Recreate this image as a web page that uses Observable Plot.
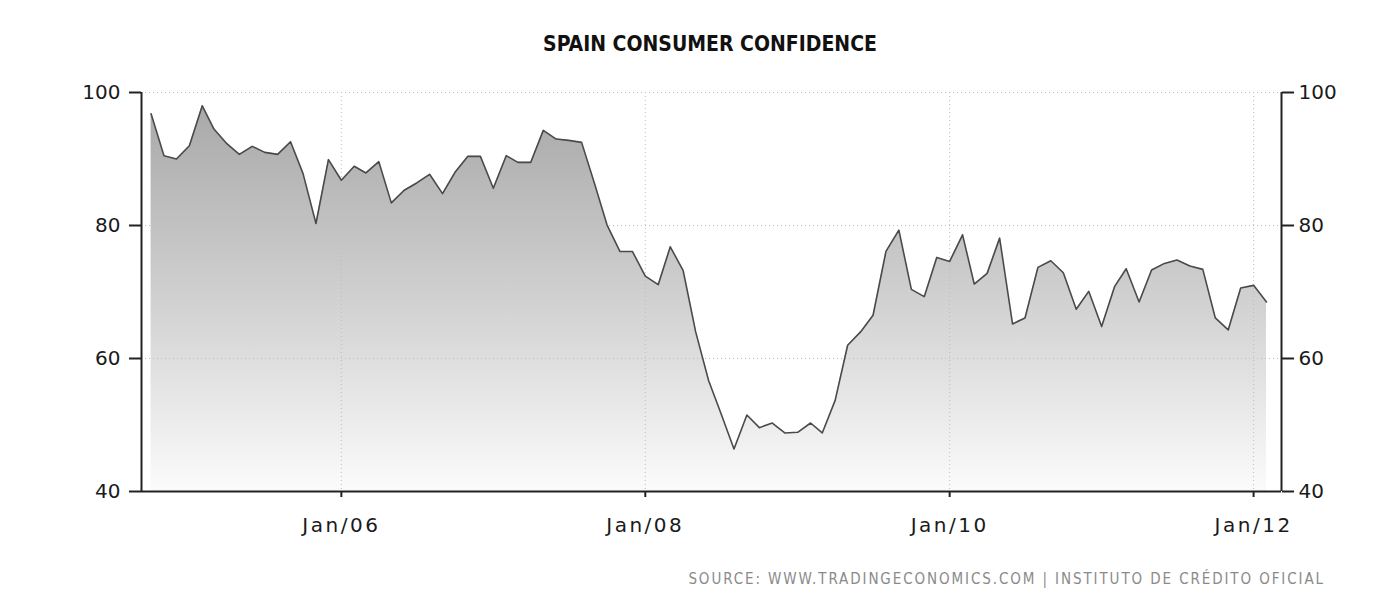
<!DOCTYPE html>
<html>
<head>
<meta charset="utf-8">
<script src="https://cdn.jsdelivr.net/npm/d3@7"></script>
<script src="https://cdn.jsdelivr.net/npm/@observablehq/plot@0.6"></script>
<style>
  html, body { margin: 0; padding: 0; background: #fff; }
  #wrap { position: relative; width: 1391px; height: 600px; overflow: hidden; }
  #title { position: absolute; left: 0; top: 32px; width: 1420px; text-align: center;
    font-family: "DejaVu Sans Condensed", "DejaVu Sans", sans-serif; font-weight: bold;
    font-size: 21px; color: #111; }
  #chart { position: absolute; left: 0; top: 75px; }
  #source { position: absolute; right: 66px; top: 570px;
    font-family: "DejaVu Sans Condensed", "DejaVu Sans", sans-serif; font-size: 15px;
    color: #8a8a8a; letter-spacing: 1.9px; white-space: nowrap; }
  .xax text { letter-spacing: 2.5px; }
</style>
</head>
<body>
<div id="wrap">
  <div id="title">SPAIN CONSUMER CONFIDENCE</div>
  <div id="chart"></div>
  <div id="source">SOURCE: WWW.TRADINGECONOMICS.COM | INSTITUTO DE CRÉDITO OFICIAL</div>
</div>
<script>
// Monthly series, Oct 2004 .. Feb 2012
const startMonth = "2004-10-01";
const values = [
  96.8, 90.5, 90.0, 92.0, 98.0, 94.5, 92.3, 90.7, 91.9, 91.0, 90.7, 92.6,
  87.8, 80.3, 89.9, 86.8, 88.9, 87.9, 89.6, 83.4, 85.3, 86.4, 87.7, 84.8,
  88.0, 90.4, 90.4, 85.6, 90.5, 89.5, 89.5, 94.3, 93.0, 92.8, 92.5, 86.3,
  80.1, 76.1, 76.1, 72.4, 71.1, 76.8, 73.2, 64.0, 56.7, 51.7, 46.4, 51.5,
  49.6, 50.3, 48.8, 48.9, 50.3, 48.8, 53.7, 62.0, 64.0, 66.5, 76.1, 79.3,
  70.4, 69.3, 75.2, 74.6, 78.6, 71.2, 72.8, 78.1, 65.2, 66.1, 73.7, 74.7,
  72.9, 67.4, 70.1, 64.8, 70.8, 73.5, 68.5, 73.3, 74.3, 74.8, 73.9, 73.4,
  66.1, 64.3, 70.6, 71.0, 68.5
];
const xTicks = ["2006-01-01", "2008-01-01", "2010-01-01", "2012-01-01"];
const yTicks = [40, 60, 80, 100];
const xDomain = ["2004-09-08", "2012-03-08"];
const yDomain = [40, 100];

const start = new Date(startMonth);
const data = values.map((v, i) => ({ date: d3.utcMonth.offset(start, i), value: v }));
const xTickDates = xTicks.map(d => new Date(d));

const fmt = d3.utcFormat("%b/%y");
const font = "DejaVu Sans, sans-serif";

const chart = Plot.plot({
  width: 1391,
  height: 475,
  marginLeft: 141,
  marginRight: 110,
  marginTop: 17,
  marginBottom: 59,
  style: { fontFamily: font, fontSize: "20px", color: "#1a1a1a", background: "transparent" },
  x: { type: "utc", domain: xDomain.map(d => new Date(d)) },
  y: { domain: yDomain },
  marks: [
    Plot.areaY(data, { x: "date", y1: 40, y2: "value", fill: "url(#areaGrad)" }),
    Plot.gridX(xTickDates, { stroke: "#bdbdbd", strokeOpacity: 1, strokeDasharray: "1,3" }),
    Plot.gridY(yTicks.slice(1), { stroke: "#bdbdbd", strokeOpacity: 1, strokeDasharray: "1,3" }),
    Plot.lineY(data, { x: "date", y: "value", stroke: "#4a4a4a", strokeWidth: 1.6 }),
    Plot.axisY(yTicks, { anchor: "left", tickSize: 12, tickPadding: 9, label: null, stroke: "#222", strokeWidth: 2 }),
    Plot.axisY(yTicks, { anchor: "right", tickSize: 12, tickPadding: 5, label: null, stroke: "#222", strokeWidth: 2 }),
    Plot.axisX(xTickDates, { anchor: "bottom", tickSize: 6, tickPadding: 20, label: null, tickFormat: fmt, stroke: "#222", strokeWidth: 2, className: "xax" }),
    Plot.ruleX([xDomain[0]], { x: d => new Date(d), stroke: "#222", strokeWidth: 2 }),
    Plot.ruleX([xDomain[1]], { x: d => new Date(d), stroke: "#222", strokeWidth: 2 }),
    Plot.ruleY([40], { stroke: "#222", strokeWidth: 2 })
  ]
});

// gradient for the area fill
const yScale = chart.scale("y");
const svg = d3.select(chart);
const defs = svg.insert("defs", ":first-child");
const grad = defs.append("linearGradient")
  .attr("id", "areaGrad")
  .attr("gradientUnits", "userSpaceOnUse")
  .attr("x1", 0).attr("x2", 0)
  .attr("y1", yScale.apply(100)).attr("y2", yScale.apply(40));
grad.append("stop").attr("offset", "0%").attr("stop-color", "#a6a6a6");
grad.append("stop").attr("offset", "50%").attr("stop-color", "#cfcfcf");
grad.append("stop").attr("offset", "100%").attr("stop-color", "#fbfbfb");

document.getElementById("chart").appendChild(chart);
</script>
</body>
</html>
